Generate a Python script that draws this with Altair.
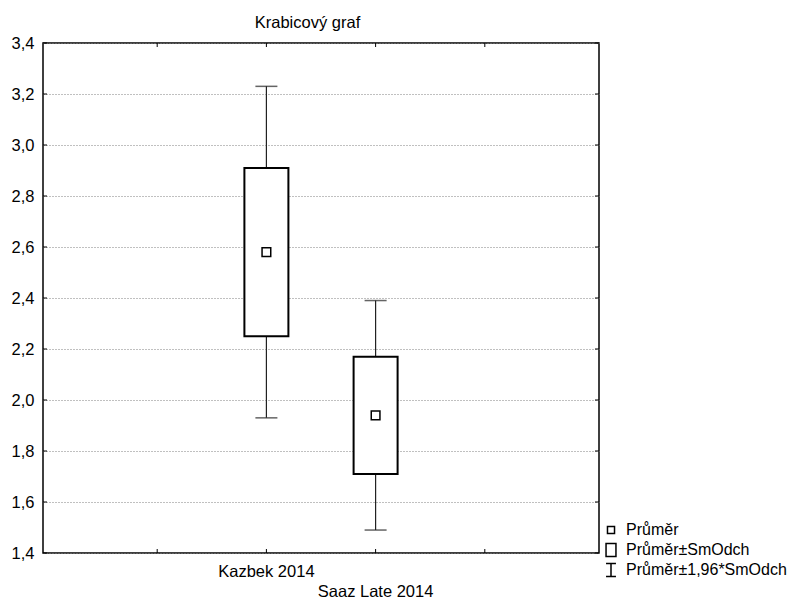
import altair as alt
import pandas as pd

title_text = ["Krabicový graf"]
categories = ["Kazbek 2014", "Saaz Late 2014"]
positions = [2, 3]
means = [2.58, 1.94]
box_low = [2.25, 1.71]
box_high = [2.91, 2.17]
whisker_low = [1.93, 1.49]
whisker_high = [3.23, 2.39]
y_ticks = [1.4, 1.6, 1.8, 2.0, 2.2, 2.4, 2.6, 2.8, 3.0, 3.2, 3.4]
x_ticks = [1, 2, 3, 4]
legend_labels = ["Průměr", "Průměr±SmOdch", "Průměr±1,96*SmOdch"]
legend_paths = [
    "M-0.44,-0.44H0.44V0.44H-0.44Z",
    "M-0.62,-0.81H0.62V0.81H-0.62Z",
    "M-0.62,-0.81H0.62M0,-0.81V0.81M-0.62,0.81H0.62",
]

W, H = 556, 510
FONT = "Liberation Sans"

df = pd.DataFrame({
    "cat": categories,
    "pos": positions,
    "mean": means,
    "blo": box_low,
    "bhi": box_high,
    "wlo": whisker_low,
    "whi": whisker_high,
})
xt = pd.DataFrame({"t": x_ticks})
yt = pd.DataFrame({"v": y_ticks})
tt = pd.DataFrame({"title": title_text})
lg = pd.DataFrame({"label": legend_labels})

xscale = alt.Scale(domain=[0, 5], nice=False, zero=False)
yscale = alt.Scale(domain=[1.4, 3.4], nice=False, zero=False)
yaxis = alt.Axis(
    values=y_ticks,
    labelExpr="replace(format(datum.value, '.1f'), '.', ',')",
    ticks=False, domain=False, grid=True, gridDash=[1, 2], gridColor="#808080",
    labelPadding=9, labelFontSize=16.5, labelColor="black", title=None,
)
X = alt.X("pos:Q", scale=xscale, axis=None)

base = alt.Chart(df)

grid = alt.Chart(yt).mark_rule(opacity=0).encode(
    y=alt.Y("v:Q", scale=yscale, axis=yaxis)
)

whisk_lo = base.mark_rule(color="#222", strokeWidth=1.2).encode(
    x=X, y=alt.Y("wlo:Q", scale=yscale, axis=None), y2="blo:Q")
whisk_hi = base.mark_rule(color="#222", strokeWidth=1.2).encode(
    x=X, y=alt.Y("bhi:Q", scale=yscale, axis=None), y2="whi:Q")
cap_lo = base.mark_tick(color="#222", orient="horizontal", size=22, thickness=1.5).encode(
    x=X, y=alt.Y("wlo:Q", scale=yscale, axis=None))
cap_hi = base.mark_tick(color="#222", orient="horizontal", size=22, thickness=1.5).encode(
    x=X, y=alt.Y("whi:Q", scale=yscale, axis=None))
box = base.mark_bar(size=44, fill="white", stroke="black", strokeWidth=2).encode(
    x=X, y=alt.Y("blo:Q", scale=yscale, axis=None), y2="bhi:Q")
mean = base.mark_point(shape=legend_paths[0], filled=False, color="black", fill="white",
                       fillOpacity=1, strokeWidth=1.5, size=390, opacity=1).encode(
    x=X, y=alt.Y("mean:Q", scale=yscale, axis=None))

xt_bot = alt.Chart(xt).mark_rule(color="black").encode(
    x=alt.X("t:Q", scale=xscale, axis=None), y=alt.value(H), y2=alt.value(H - 4))
xt_top = alt.Chart(xt).mark_rule(color="black").encode(
    x=alt.X("t:Q", scale=xscale, axis=None), y=alt.value(0), y2=alt.value(4))
yt_left = alt.Chart(yt).mark_rule(color="black").encode(
    y=alt.Y("v:Q", scale=yscale, axis=None), x=alt.value(0), x2=alt.value(4))
yt_right = alt.Chart(yt).mark_rule(color="black").encode(
    y=alt.Y("v:Q", scale=yscale, axis=None), x=alt.value(W - 4), x2=alt.value(W))

lab1 = base.transform_filter(alt.datum.pos == positions[0]).mark_text(
    fontSize=16.5, baseline="alphabetic", color="black").encode(
    x=X, y=alt.value(H + 24), text="cat:N")
lab2 = base.transform_filter(alt.datum.pos == positions[1]).mark_text(
    fontSize=16.5, baseline="alphabetic", color="black").encode(
    x=X, y=alt.value(H + 44), text="cat:N")

title = alt.Chart(tt).mark_text(
    fontSize=16.5, baseline="alphabetic", align="center", color="black").encode(
    x=alt.value(264.5), y=alt.value(-15), text="title:N")

# legend (drawn as marks)
LY = alt.Y("label:N", axis=None,
           scale=alt.Scale(type="point", domain=legend_labels, range=[487, 527], padding=0))
leg_sym = alt.Chart(lg).mark_point(filled=False, color="black", fill="white", fillOpacity=1,
                                   strokeWidth=1.5, size=256, opacity=1).encode(
    x=alt.value(568), y=LY,
    shape=alt.Shape("label:N", scale=alt.Scale(domain=legend_labels, range=legend_paths),
                    legend=None))
leg_txt = alt.Chart(lg).mark_text(fontSize=16, align="left", baseline="middle",
                                  color="black").encode(
    x=alt.value(583), y=LY, text="label:N")

chart = alt.layer(
    grid, whisk_lo, whisk_hi, cap_lo, cap_hi, box, mean,
    xt_bot, xt_top, yt_left, yt_right, lab1, lab2, title, leg_sym, leg_txt,
).resolve_scale(y="independent").properties(
    width=W, height=H,
    autosize=alt.AutoSizeParams(type="none"),
    padding={"left": 35, "top": 35, "right": 189, "bottom": 47},
).configure(
    font=FONT,
).configure_view(
    stroke="black", strokeWidth=1.5,
)

chart.save("out.html", embed_options={"renderer": "svg", "actions": False})
